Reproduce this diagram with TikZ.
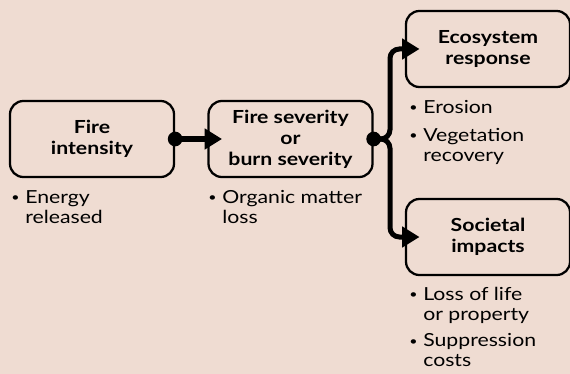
\documentclass[tikz,border=0pt]{standalone}
\usepackage{fontspec}
\setmainfont{Lato}[FakeStretch=1.18]
\usepackage{tikz}
\usetikzlibrary{arrows.meta}

\definecolor{paper}{HTML}{EFDCD2}
\newcommand{\dotmark}{\makebox[10.5pt][l]{\raisebox{0.15ex}{\fontsize{9}{9}\selectfont\textbullet}}}

\begin{document}
\begin{tikzpicture}[x=0.75pt, y=-0.75pt,
        box/.style = {draw, line width=1.7pt, rounded corners=10pt, minimum width=123pt,
            minimum height=57pt, align=center, font=\fontsize{13.5}{15.75}\selectfont\bfseries},
        notes/.style = {anchor=north west, inner sep=0pt, font=\fontsize{13.5}{15}\selectfont},
        flow/.style = {line width=3.75pt, rounded corners=7pt, -{Triangle[length=13pt, width=15pt]}}]
        \fill [paper] (0,0) rectangle (570,374);
        \useasboundingbox (0,0) rectangle (570,374);
        % boxes
        \node [box] (fi) at (92,139) {Fire\\intensity};
        \node [box] (fs) at (290.5,139) {Fire severity\\or\\burn severity};
        \node [box] (eco) at (488,49) {Ecosystem\\response};
        \node [box] (soc) at (488,237) {Societal\\impacts};
        % bullet notes
        \node [notes] (fi-n) at (11,189) {\begin{tabular}{@{}l@{}l@{}}\dotmark & Energy\\ & released\end{tabular}};
        \node [notes] (fs-n) at (208,189) {\begin{tabular}{@{}l@{}l@{}}\dotmark & Organic matter\\ & loss\end{tabular}};
        \node [notes] (eco-n) at (409,99) {\begin{tabular}{@{}l@{}l@{}}\dotmark & Erosion\\[6pt] \dotmark & Vegetation\\ & recovery\end{tabular}};
        \node [notes] (soc-n) at (409,286) {\begin{tabular}{@{}l@{}l@{}}\dotmark & Loss of life\\ & or property\\[5pt] \dotmark & Suppression\\ & costs\end{tabular}};
        % connectors
        \draw [flow, shorten >=-11pt] (fi.east) -- (fs.west);
        \coordinate (split) at (390,139);
        \draw [flow, shorten >=-11pt] (fs.east) -- (split) |- (eco.west);
        \draw [flow, shorten >=-11pt] (fs.east) -- (split) |- (soc.west);
        \fill (fi.east) circle (5.5pt);
        \fill (fs.east) circle (5.5pt);
    \end{tikzpicture}
\end{document}
